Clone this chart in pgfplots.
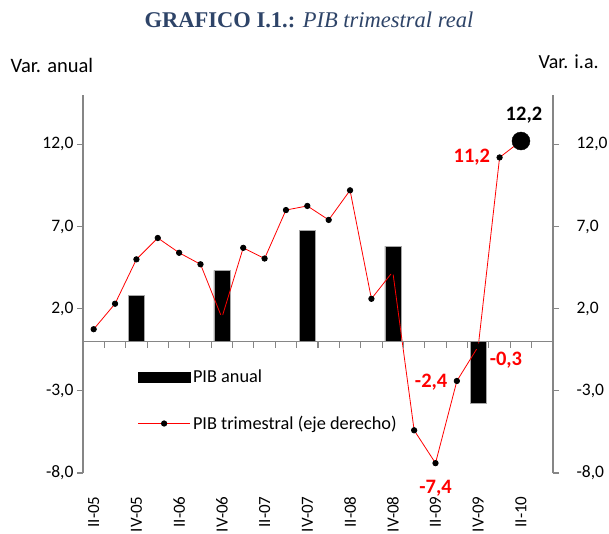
\documentclass[border=0pt]{standalone}
\usepackage{pgfplots}
\pgfplotsset{compat=1.18}
\usepackage{fontspec}
\setmainfont{Carlito}
\newfontfamily\titlefont{Liberation Serif}
\definecolor{titleblue}{HTML}{2E4468}
\definecolor{axgray}{HTML}{868686}
\begin{document}
\begin{tikzpicture}
\clip (0pt,0pt) rectangle (609pt,-533pt);
\node[anchor=center] at (309pt,-20pt) {\titlefont\fontsize{22.5}{26}\selectfont\color{titleblue}{\bfseries GRAFICO I.1.:} {\itshape PIB trimestral real}};
\node[anchor=west] at (7pt,-65pt) {\fontsize{20.5}{24}\selectfont Var. anual};
\node[anchor=west] at (535pt,-62pt) {\fontsize{20}{24}\selectfont Var. i.a.};
\begin{axis}[
  at={(83pt,-473pt)}, anchor=south west,
  scale only axis, width=470pt, height=378pt,
  xmin=-0.5, xmax=21.5, ymin=-8, ymax=15,
  separate axis lines,
  axis x line*=bottom, axis y line*=left,
  x axis line style={draw=none},
  y axis line style={draw=axgray, line width=1.3pt},
  xtick={0,2,...,20},
  xticklabels={II-05,IV-05,II-06,IV-06,II-07,IV-07,II-08,IV-08,II-09,IV-09,II-10},
  x tick style={draw=none},
  xticklabel style={rotate=90, anchor=east, font=\fontsize{17}{20}\selectfont},
  xticklabel shift=14pt,
  ytick={-8,-3,2,7,12},
  yticklabels={{-8,0},{-3,0},{2,0},{7,0},{12,0}},
  tick align=outside, major tick length=6pt,
  y tick style={axgray, line width=1.1pt},
  yticklabel style={font=\fontsize{17.5}{20}\selectfont},
  clip=false,
  legend style={draw=none, fill=none, at={(rel axis cs:0.116,0.28)}, anchor=north west,
    font=\fontsize{18.3}{21}\selectfont, row sep=27pt, inner sep=0pt,
    nodes={inner sep=2.5pt}},
  legend cell align=left,
]
\addplot[ybar, bar width=16pt, bar shift=0pt, fill=black, draw=gray!70, line width=0.4pt,
  legend image code/.code={\fill[black] (0pt,-5pt) rectangle (52pt,5pt);}]
  coordinates {(2,2.82) (6,4.33) (10,6.75) (14,5.81) (18,-3.78)};
\addlegendentry{PIB anual}
\addplot[red, line width=0.8pt, mark=*, mark size=2.7pt, mark options={black, fill=black},
  legend image code/.code={\draw[red, line width=0.8pt] (0pt,0pt) -- (52pt,0pt); \fill[black] (26pt,0pt) circle (2.7pt);}]
  coordinates {(0,0.75) (1,2.3) (2,5.0) (3,6.3) (4,5.4) (5,4.7) (6,1.45) (7,5.7) (8,5.05) (9,8.0) (10,8.25) (11,7.4) (12,9.2) (13,2.6) (14,4.25) (15,-5.4) (16,-7.4) (17,-2.4) (18,-0.3) (19,11.2) (20,12.2)};
\addlegendentry{PIB trimestral (eje derecho)}
\addplot[only marks, mark=*, mark size=9pt, black, forget plot] coordinates {(20,12.2)};
\draw[axgray, line width=1.3pt] (axis cs:-0.5,0) -- (axis cs:21.5,0);
\pgfplotsinvokeforeach{-0.5,0.5,...,21.5}{\draw[axgray, line width=1.1pt] (axis cs:#1,0) -- ++(0pt,-6pt);}
\node[font=\fontsize{20.5}{24}\selectfont\bfseries, black] at (axis cs:20,12.2) [xshift=3pt, yshift=26pt] {12,2};
\node[font=\fontsize{20.5}{24}\selectfont\bfseries, red, anchor=east] at (axis cs:19,11.2) [xshift=-6pt] {11,2};
\node[font=\fontsize{20.5}{24}\selectfont\bfseries, red, anchor=east] at (axis cs:17,-2.4) [xshift=-6pt, yshift=-1pt] {-2,4};
\node[font=\fontsize{20.5}{24}\selectfont\bfseries, red, anchor=west] at (axis cs:18,-0.3) [xshift=8pt, yshift=-14pt] {-0,3};
\node[font=\fontsize{20.5}{24}\selectfont\bfseries, red] at (axis cs:16,-7.4) [yshift=-25pt] {-7,4};
\end{axis}
\begin{axis}[
  at={(83pt,-473pt)}, anchor=south west,
  scale only axis, width=470pt, height=378pt,
  xmin=-0.5, xmax=21.5, ymin=-8, ymax=15,
  axis x line=none, axis y line*=right,
  y axis line style={draw=axgray, line width=1.3pt},
  ytick={-8,-3,2,7,12},
  yticklabels={{-8,0},{-3,0},{2,0},{7,0},{12,0}},
  yticklabel style={anchor=west, xshift=14pt, font=\fontsize{17.5}{20}\selectfont},
  tick align=outside, major tick length=6pt,
  y tick style={axgray, line width=1.1pt},
]
\end{axis}
\end{tikzpicture}
\end{document}
